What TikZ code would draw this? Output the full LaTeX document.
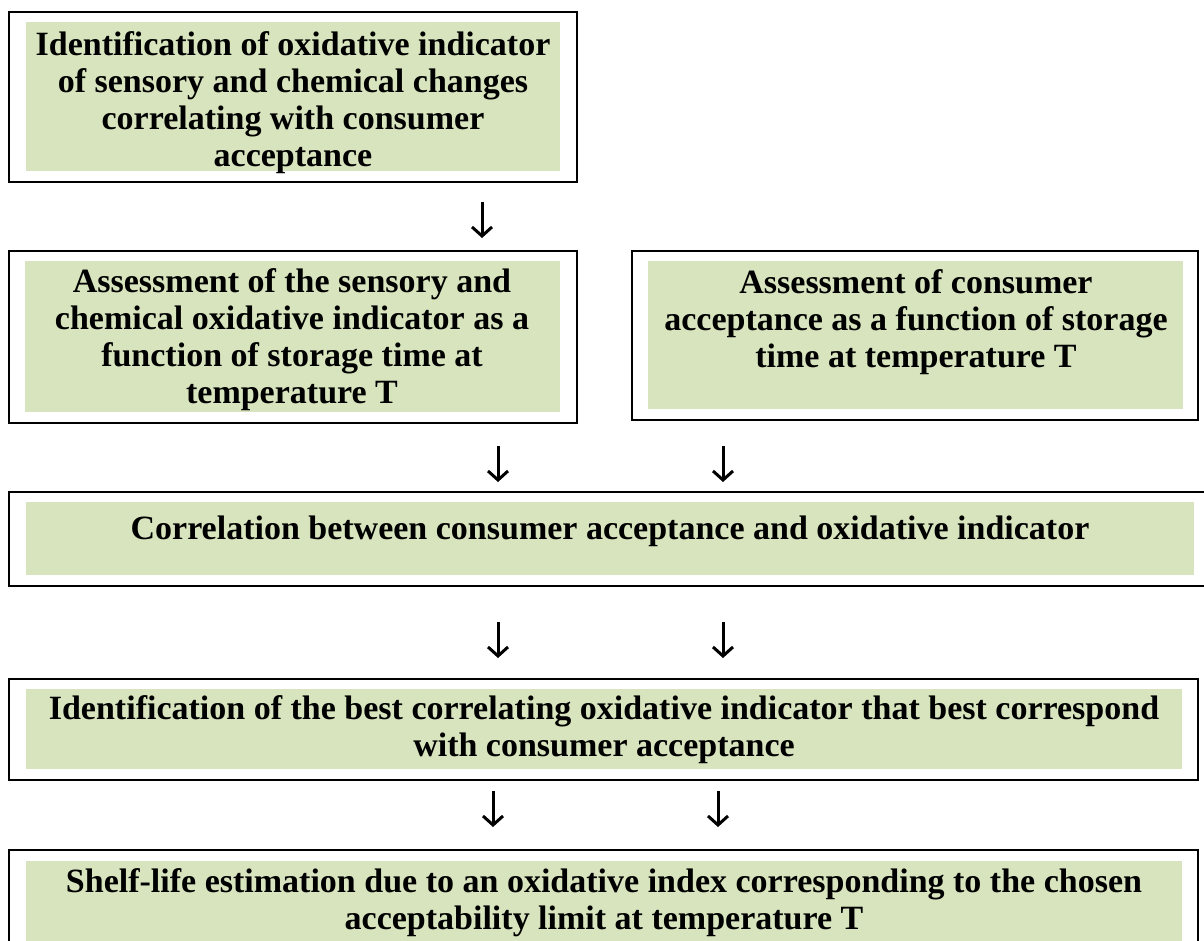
\documentclass[tikz,border=0pt]{standalone}
\usepackage{fontspec}
\setmainfont{Liberation Serif}
\usetikzlibrary{arrows.meta}
\definecolor{boxgreen}{HTML}{D7E4BD}
\tikzset{
  outerbox/.style={draw=black, line width=2.5pt},
  greenbox/.style={fill=boxgreen},
  label/.style={align=center, inner sep=0pt, font=\fontsize{34}{37}\selectfont\bfseries},
  flowarrow/.style={line width=3pt, -{Straight Barb[length=9pt,width=20pt]}}
}
\begin{document}
\begin{tikzpicture}[x=1pt,y=-1pt]
\useasboundingbox (0,0) rectangle (1204,940);
\fill[white] (0,0) rectangle (1204,940);
\clip (0,0) rectangle (1204,940);
% box 1
\draw[outerbox] (9,12) rectangle (577,182);
\fill[greenbox] (26,22) rectangle (560,171);
\node[label] (t1) at (293,103) {Identification of oxidative indicator\\of sensory and chemical changes\\correlating with consumer\\acceptance};
% box 2 left
\draw[outerbox] (9,251) rectangle (577,423);
\fill[greenbox] (25,261) rectangle (560,412);
\node[label] (t2) at (292,340) {Assessment of the sensory and\\chemical oxidative indicator as a\\function of storage time at\\temperature T};
% box 2 right
\draw[outerbox] (632,251) rectangle (1198,420);
\fill[greenbox] (648,261) rectangle (1183,409);
\node[label] (t3) at (916,322) {Assessment of consumer\\acceptance as a function of storage\\time at temperature T};
% box 3
\draw[outerbox] (9,492) rectangle (1215,586);
\fill[greenbox] (26,502) rectangle (1194,575);
\node[label] (t4) at (610,531) {Correlation between consumer acceptance and oxidative indicator};
% box 4
\draw[outerbox] (9,679) rectangle (1198,780);
\fill[greenbox] (26,689) rectangle (1182,769);
\node[label] (t5) at (604,730) {Identification of the best correlating oxidative indicator that best correspond\\with consumer acceptance};
% box 5
\draw[outerbox] (9,850) rectangle (1198,960);
\fill[greenbox] (26,861) rectangle (1182,950);
\node[label] (t6) at (604,903) {Shelf-life estimation due to an oxidative index corresponding to the chosen\\acceptability limit at temperature T};
% arrows
\coordinate (a1s) at (482,202); \coordinate (a1e) at (482,238);
\coordinate (a2s) at (498,446); \coordinate (a2e) at (498,482);
\coordinate (a3s) at (723,446); \coordinate (a3e) at (723,482);
\coordinate (a4s) at (498,622); \coordinate (a4e) at (498,658);
\coordinate (a5s) at (723,622); \coordinate (a5e) at (723,658);
\coordinate (a6s) at (493,791); \coordinate (a6e) at (493,827);
\coordinate (a7s) at (718,791); \coordinate (a7e) at (718,827);
\foreach \s/\e in {a1s/a1e,a2s/a2e,a3s/a3e,a4s/a4e,a5s/a5e,a6s/a6e,a7s/a7e}
  \draw[flowarrow] (\s) -- (\e);
\end{tikzpicture}
\end{document}
